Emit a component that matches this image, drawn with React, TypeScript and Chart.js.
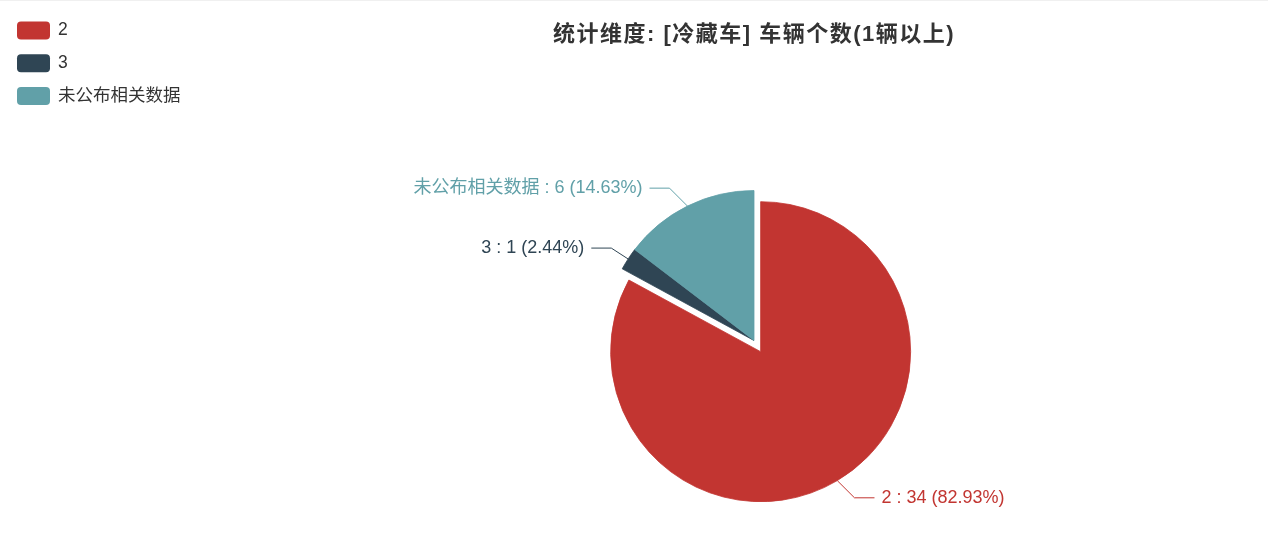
import React, { useEffect, useRef } from 'react';
import { Chart, registerables } from 'chart.js';

Chart.register(...registerables);

const categories: string[] = ['2', '3', '未公布相关数据'];
const values: number[] = [34, 1, 6];
const colors: string[] = ['#c23531', '#2f4554', '#61a0a8'];
const selectedOffset: number[] = [13, 0, 0];
const titleText = '统计维度: [冷藏车] 车辆个数(1辆以上)';

const FONT = '"Liberation Sans", "Noto Sans CJK SC", sans-serif';

// moves a "selected" slice outward along its mid-angle (like an echarts selected slice)
const selectPlugin = {
  id: 'selectOffset',
  afterUpdate(chart: any) {
    const meta = chart.getDatasetMeta(0);
    meta.data.forEach((arc: any, i: number) => {
      const off = selectedOffset[i] || 0;
      if (!off) return;
      const mid = (arc.startAngle + arc.endAngle) / 2;
      arc.x = arc.x + Math.cos(mid) * off;
      arc.y = arc.y + Math.sin(mid) * off;
    });
  },
};

const overlayPlugin = {
  id: 'overlay',
  afterDraw(chart: any) {
    const ctx: CanvasRenderingContext2D = chart.ctx;
    const meta = chart.getDatasetMeta(0);
    const total = values.reduce((a, b) => a + b, 0);
    const ca = chart.chartArea;
    ctx.save();

    // title
    ctx.font = `bold 22px ${FONT}`;
    (ctx as any).letterSpacing = '1.5px';
    ctx.fillStyle = '#333';
    ctx.textAlign = 'center';
    ctx.textBaseline = 'middle';
    ctx.fillText(titleText, (ca.left + ca.right) / 2, 35);
    (ctx as any).letterSpacing = '0px';

    // legend
    ctx.font = `17.5px ${FONT}`;
    categories.forEach((c, i) => {
      const y = 30.5 + i * 32.7;
      ctx.fillStyle = colors[i];
      ctx.beginPath();
      (ctx as any).roundRect(17, y - 9, 33, 18, 4);
      ctx.fill();
      ctx.fillStyle = '#333';
      ctx.textAlign = 'left';
      ctx.textBaseline = 'middle';
      ctx.fillText(c, 58, y);
    });

    // labels with leader lines
    meta.data.forEach((arc: any, i: number) => {
      const p = arc.getProps(['x', 'y', 'startAngle', 'endAngle', 'outerRadius'], true);
      const mid = (p.startAngle + p.endAngle) / 2;
      const dx = Math.cos(mid);
      const dy = Math.sin(mid);
      const ex = p.x + dx * p.outerRadius;
      const ey = p.y + dy * p.outerRadius;
      const L = 20;
      const sx = dx >= 0 ? 1 : -1;
      const mx = ex + sx * Math.max(Math.abs(L * dx), Math.abs(L * dy));
      const my = ey + L * dy;
      const hx = mx + sx * 20;
      ctx.strokeStyle = colors[i];
      ctx.lineWidth = 1;
      ctx.beginPath();
      ctx.moveTo(ex, ey);
      ctx.lineTo(mx, my);
      ctx.lineTo(hx, my);
      ctx.stroke();
      const pct = ((values[i] / total) * 100).toFixed(2);
      const text = `${categories[i]} : ${values[i]} (${pct}%)`;
      ctx.font = `18px ${FONT}`;
      ctx.fillStyle = colors[i];
      ctx.textBaseline = 'middle';
      ctx.textAlign = sx > 0 ? 'left' : 'right';
      ctx.fillText(text, hx + sx * 7, my);
    });

    ctx.restore();
  },
};

export default function App() {
  const canvasRef = useRef<HTMLCanvasElement | null>(null);

  useEffect(() => {
    if (!canvasRef.current) return;
    const chart = new Chart(canvasRef.current, {
      type: 'pie',
      data: {
        labels: categories,
        datasets: [
          {
            data: values,
            backgroundColor: colors,
            borderColor: colors,
            borderWidth: 0.8,
          },
        ],
      },
      options: {
        responsive: false,
        animation: false,
        events: [],
        radius: 150,
        layout: { padding: { left: 240, right: 0, top: 121, bottom: 0 } },
        plugins: {
          legend: { display: false },
          title: { display: false },
          tooltip: { enabled: false },
        },
      } as any,
      plugins: [selectPlugin, overlayPlugin],
    });
    return () => chart.destroy();
  }, []);

  return (
    <div
      style={{
        position: 'fixed',
        left: 0,
        top: 0,
        width: 1268,
        height: 560,
        background: '#fff',
      }}
    >
      <div style={{ position: 'absolute', left: 0, top: 0, width: 1268, height: 1, background: '#f0f0f0' }} />
      <canvas ref={canvasRef} width={1268} height={560} style={{ display: 'block' }} />
    </div>
  );
}
